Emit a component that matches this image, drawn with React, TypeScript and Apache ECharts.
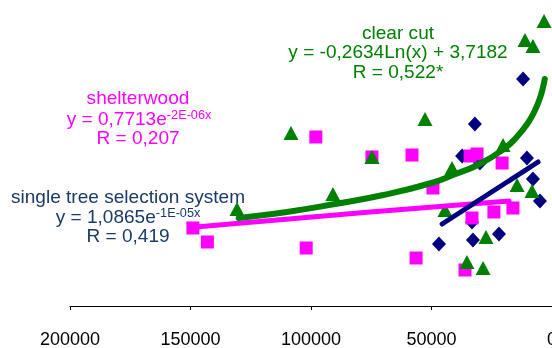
import React, { useEffect, useRef } from "react";
import * as echarts from "echarts";

// Axis
const xMin = 0;
const xMax = 200000;
const xInterval = 50000;

// Scatter observations [x, y]
const shelterwoodPoints: [number, number][] = [
  [149000, 0.78], [143000, 0.64], [102000, 0.58], [98000, 1.69], [74700, 1.49],
  [58100, 1.51], [49400, 1.18], [56400, 0.48], [36100, 0.36], [34000, 1.5],
  [31100, 1.52], [20700, 1.43], [33200, 0.88], [24100, 0.94], [16200, 0.98],
];
const clearCutPoints: [number, number][] = [
  [130700, 0.97], [108300, 1.73], [90900, 1.12], [74700, 1.49], [52700, 1.87],
  [41500, 1.38], [44400, 0.96], [20300, 1.61], [14500, 1.21], [8300, 1.15],
  [27400, 0.69], [35300, 0.44], [28600, 0.38], [11200, 2.66], [7900, 2.6], [3300, 2.85],
];
const selectionPoints: [number, number][] = [
  [32000, 1.82], [12000, 2.27], [37300, 1.5], [29900, 1.43], [10400, 1.48],
  [7900, 1.27], [5000, 1.05], [33200, 0.84], [46900, 0.62], [32800, 0.66], [22000, 0.72],
];

// Trend lines [x, y]
const clearCutTrend: [number, number][] = [
  [130000, 0.88], [110000, 0.94], [90000, 1.02], [70000, 1.11], [50000, 1.23],
  [40000, 1.32], [30000, 1.42], [20000, 1.57], [15000, 1.68], [10000, 1.83],
  [7000, 1.96], [5000, 2.08], [4000, 2.16], [3000, 2.27],
];
const shelterwoodTrend: [number, number][] = [
  [147700, 0.79], [75500, 0.94], [17800, 1.05],
];
const selectionTrend: [number, number][] = [
  [45600, 0.82], [25700, 1.13], [5800, 1.44],
];

// Annotation texts
const clearCutLabel = ["clear cut", "y = -0,2634Ln(x) + 3,7182", "R = 0,522*"];
const shelterwoodLabel = ["shelterwood", "y = 0,7713e", "-2E-06x", "R = 0,207"];
const selectionLabel = ["single tree selection system", "y = 1,0865e", "-1E-05x", "R = 0,419"];

const GREEN = "#008000";
const MAGENTA = "#FF00FF";
const NAVY = "#000080";
const NAVY_TEXT = "#1A3A68";
const FONT = '"Liberation Sans", Arial, sans-serif';
const STRETCH = 1.06;

function txt(x: number, y: number, text: string, fill: string, size = 18): any {
  return {
    type: "text",
    x,
    y,
    scaleX: STRETCH,
    silent: true,
    style: {
      text,
      fill,
      fontSize: size,
      fontFamily: FONT,
      align: "center",
      verticalAlign: "middle",
      textAlign: "center",
      textVerticalAlign: "middle",
    },
  };
}

function supTxt(x: number, y: number, base: string, sup: string, fill: string): any {
  return {
    type: "text",
    x,
    y,
    scaleX: STRETCH,
    silent: true,
    style: {
      text: `{a|${base}}{b|${sup}}`,
      fill,
      align: "center",
      verticalAlign: "middle",
      textAlign: "center",
      textVerticalAlign: "middle",
      rich: {
        a: { fontSize: 18, fontFamily: FONT, fill, color: fill },
        b: { fontSize: 12, fontFamily: FONT, fill, color: fill, verticalAlign: "top", padding: [0, 0, 8, 0] },
      },
    },
  };
}

export default function App() {
  const ref = useRef<HTMLDivElement>(null);
  useEffect(() => {
    if (!ref.current) return;
    const chart = echarts.init(ref.current, null, { renderer: "svg" });
    chart.setOption({
      animation: false,
      grid: { left: 70, right: 0, top: 6, bottom: 42, containLabel: false, outerBoundsMode: "none" },
      xAxis: {
        type: "value",
        inverse: true,
        min: xMin,
        max: xMax,
        interval: xInterval,
        splitLine: { show: false },
        axisLine: { show: true, lineStyle: { color: "#000", width: 1 } },
        axisTick: { show: true, length: 4, lineStyle: { color: "#000" } },
        axisLabel: {
          color: "#000",
          fontSize: 18,
          fontFamily: FONT,
          margin: 24,
          showMinLabel: true,
          showMaxLabel: true,
          hideOverlap: false,
          formatter: (v: number) => String(v),
        },
      },
      yAxis: { type: "value", min: 0, max: 3, show: false, splitLine: { show: false } },
      series: [
        {
          type: "scatter",
          data: selectionPoints,
          symbol: "diamond",
          symbolSize: [14, 15],
          itemStyle: { color: NAVY, opacity: 1 },
          z: 2,
        },
        {
          type: "scatter",
          data: shelterwoodPoints,
          symbol: "rect",
          symbolSize: 13,
          itemStyle: { color: MAGENTA, opacity: 1 },
          z: 3,
        },
        {
          type: "scatter",
          data: clearCutPoints,
          symbol: "triangle",
          symbolSize: [15, 14],
          itemStyle: { color: GREEN, opacity: 1 },
          z: 4,
        },
        {
          type: "line",
          data: shelterwoodTrend,
          showSymbol: false,
          symbol: "none",
          smooth: true,
          lineStyle: { color: MAGENTA, width: 5, cap: "round" },
          z: 5,
        },
        {
          type: "line",
          data: selectionTrend,
          showSymbol: false,
          symbol: "none",
          smooth: true,
          lineStyle: { color: NAVY, width: 5, cap: "round" },
          z: 6,
        },
        {
          type: "line",
          data: clearCutTrend,
          showSymbol: false,
          symbol: "none",
          smooth: true,
          lineStyle: { color: GREEN, width: 6, cap: "round" },
          z: 7,
        },
      ],
      graphic: [
        txt(398, 33, clearCutLabel[0], GREEN),
        txt(398, 52, clearCutLabel[1], GREEN),
        txt(398, 72, clearCutLabel[2], GREEN),
        txt(138, 98, shelterwoodLabel[0], MAGENTA),
        supTxt(139, 119, shelterwoodLabel[1], shelterwoodLabel[2], MAGENTA),
        txt(138, 138, shelterwoodLabel[3], MAGENTA),
        txt(128, 197, selectionLabel[0], NAVY_TEXT),
        supTxt(128, 217, selectionLabel[1], selectionLabel[2], NAVY_TEXT),
        txt(128, 236, selectionLabel[3], NAVY_TEXT),
      ],
    });
    return () => chart.dispose();
  }, []);
  return (
    <div
      ref={ref}
      style={{ position: "fixed", left: 0, top: 0, width: 552, height: 348 }}
    />
  );
}
